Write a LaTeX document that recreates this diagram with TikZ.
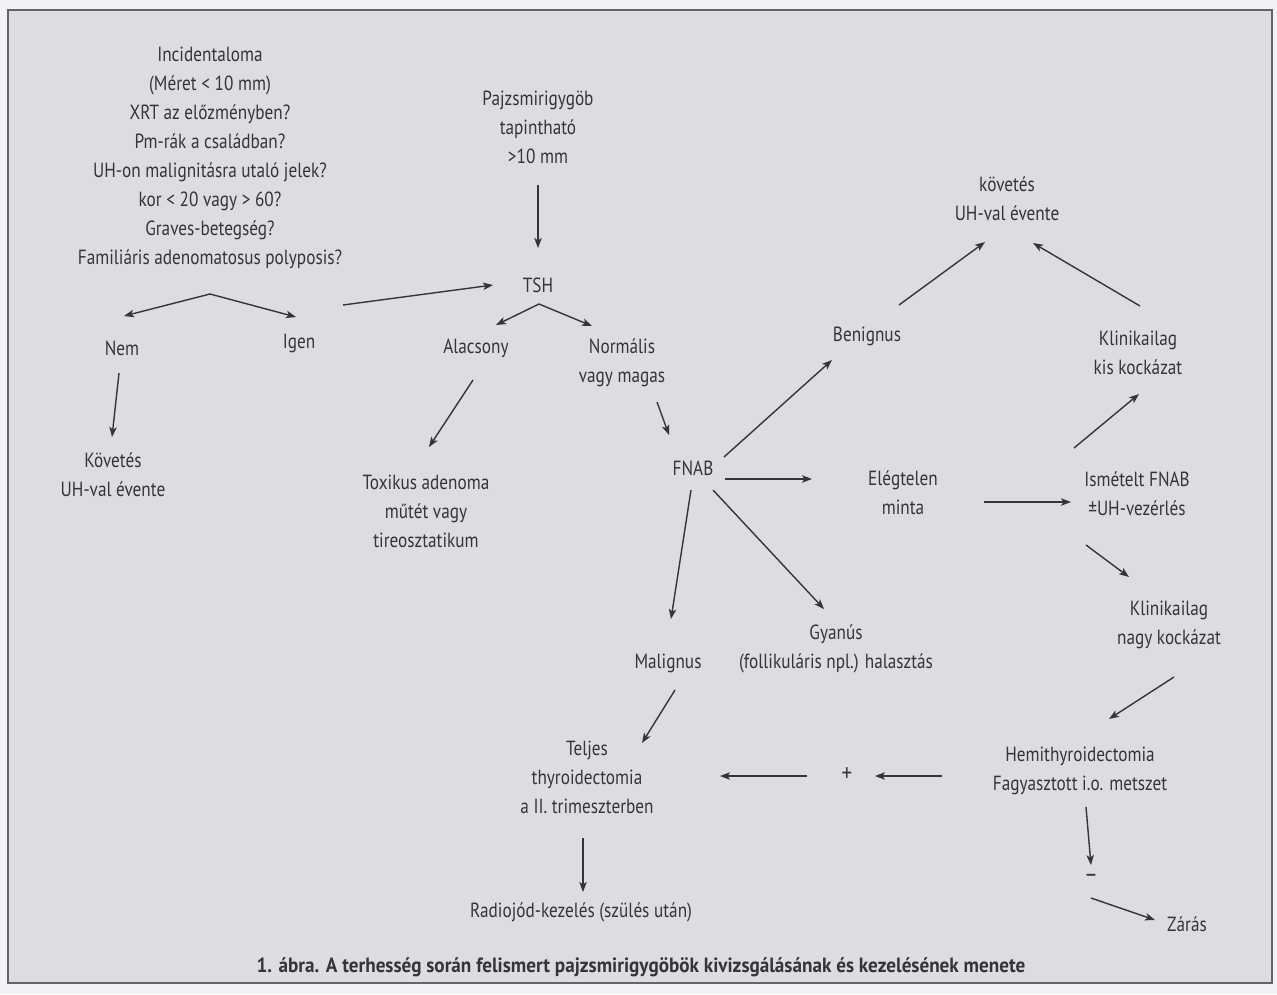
\documentclass[tikz,border=0pt]{standalone}
\usepackage{fontspec}
\setmainfont{PT Sans}[FakeStretch=0.84]
\newfontfamily\capfont{PT Sans}[FakeStretch=0.93]
\usetikzlibrary{arrows.meta}
\definecolor{bg}{HTML}{DDDCE1}
\definecolor{page}{HTML}{F3F2F5}
\definecolor{ink}{HTML}{353537}
\definecolor{framec}{HTML}{646466}
\begin{document}
\begin{tikzpicture}[x=1pt,y=-1pt,
  lbl/.style={text=ink,align=center,inner sep=0pt,font=\fontsize{20.5}{29}\selectfont},
  sign/.style={lbl,font=\fontsize{25}{29}\selectfont},
  arr/.style={draw=ink,line width=1.4pt,-{Stealth[length=10pt,width=7.5pt,inset=2.5pt]}},
]
\useasboundingbox (0,0) rectangle (1277,994);
\fill[page] (0,0) rectangle (1277,994);
\draw[framec,fill=bg,line width=2.5pt] (8,10) rectangle (1272,983);

% nodes
\node[lbl] (inc) at (210,157.5) {Incidentaloma\\(Méret < 10 mm)\\XRT az előzményben?\\Pm-rák a családban?\\UH-on malignitásra utaló jelek?\\kor < 20 vagy > 60?\\Graves-betegség?\\Familiáris adenomatosus polyposis?};
\node[lbl] (paj) at (538,127.5) {Pajzsmirigygöb\\tapintható\\>10 mm};
\node[lbl] (tsh) at (538,285) {TSH};
\node[lbl] (nem) at (122,348) {Nem};
\node[lbl] (igen) at (299,343) {Igen};
\node[lbl] (kov1) at (113,475) {Követés\\UH-val évente};
\node[lbl] (alac) at (476,348) {Alacsony};
\node[lbl] (norm) at (622,362.5) {Normális\\vagy magas};
\node[lbl] (tox) at (426,511) {Toxikus adenoma\\műtét vagy\\tireosztatikum};
\node[lbl] (fnab) at (693,468) {FNAB};
\node[lbl] (ben) at (867,336) {Benignus};
\node[lbl] (kov2) at (1007,199) {követés\\UH-val évente};
\node[lbl] (kis) at (1138,352.5) {Klinikailag\\kis kockázat};
\node[lbl] (eleg) at (903,492.5) {Elégtelen\\minta};
\node[lbl] (ism) at (1137,494) {Ismételt FNAB\\±UH-vezérlés};
\node[lbl] (nagy) at (1169,625) {Klinikailag\\nagy kockázat};
\node[lbl] (hemi) at (1080,771) {Hemithyroidectomia\\Fagyasztott i.o. metszet};
\node[sign] (minus) at (1091,878) {–};
\node[lbl] (zaras) at (1187,924) {Zárás};
\node[sign] (plus) at (847,775) {+};
\node[lbl] (telj) at (587,777) {Teljes\\thyroidectomia\\a II. trimeszterben};
\node[lbl] (radio) at (581,912) {Radiojód-kezelés (szülés után)};
\node[lbl] (mal) at (668,663) {Malignus};
\node[lbl] (gyan) at (836,649) {Gyanús\\(follikuláris npl.) halasztás};
\node[lbl,font=\capfont\fontsize{20.6}{24}\selectfont\bfseries] (cap) at (641,967) {1. ábra. A terhesség során felismert pajzsmirigygöbök kivizsgálásának és kezelésének menete};

\coordinate (split1) at (210,294);
\coordinate (split2) at (539,304);

% connectors
\draw[arr] (split1) -- ([shift={(2,-32)}]nem.center);
\draw[arr] (split1) -- ([shift={(-3,-26)}]igen.center);
\draw[arr] ([shift={(44,-38)}]igen.center) -- ([shift={(-45,0)}]tsh.center);
\draw[arr] ([shift={(0,57.5)}]paj.center) -- ([shift={(0,-37)}]tsh.center);
\draw[arr] (split2) -- ([shift={(20,-23)}]alac.center);
\draw[arr] (split2) -- ([shift={(-30,-36.5)}]norm.center);
\draw[arr] ([shift={(-3,25)}]nem.center) -- ([shift={(-1,-38)}]kov1.center);
\draw[arr] ([shift={(-3,32)}]alac.center) -- ([shift={(3,-64)}]tox.center);
\draw[arr] ([shift={(35,39.5)}]norm.center) -- ([shift={(-24,-33)}]fnab.center);
\draw[arr] ([shift={(31,-11)}]fnab.center) -- ([shift={(-35,24)}]ben.center);
\draw[arr] ([shift={(32,-31)}]ben.center) -- ([shift={(-22,43)}]kov2.center);
\draw[arr] ([shift={(2,-46.5)}]kis.center) -- ([shift={(26,44)}]kov2.center);
\draw[arr] ([shift={(-63,-46)}]ism.center) -- ([shift={(1,41.5)}]kis.center);
\draw[arr] ([shift={(32,11)}]fnab.center) -- ([shift={(-91,-13.5)}]eleg.center);
\draw[arr] ([shift={(81,9.5)}]eleg.center) -- ([shift={(-66,8)}]ism.center);
\draw[arr] ([shift={(-51,51)}]ism.center) -- ([shift={(-40,-48)}]nagy.center);
\draw[arr] ([shift={(-2,22)}]fnab.center) -- ([shift={(3,-44)}]mal.center);
\draw[arr] ([shift={(20,22)}]fnab.center) -- ([shift={(-12,-40)}]gyan.center);
\draw[arr] ([shift={(5,52)}]nagy.center) -- ([shift={(29,-52)}]hemi.center);
\draw[arr] ([shift={(6,36)}]hemi.center) -- ([shift={(0,-13)}]minus.center);
\draw[arr] ([shift={(0,20)}]minus.center) -- ([shift={(-32,-4)}]zaras.center);
\draw[arr] ([shift={(-138,5)}]hemi.center) -- ([shift={(28,1)}]plus.center);
\draw[arr] ([shift={(-40,1)}]plus.center) -- ([shift={(133,-1)}]telj.center);
\draw[arr] ([shift={(7,27)}]mal.center) -- ([shift={(55,-34)}]telj.center);
\draw[arr] ([shift={(-4,61)}]telj.center) -- ([shift={(2,-20)}]radio.center);
\end{tikzpicture}
\end{document}
